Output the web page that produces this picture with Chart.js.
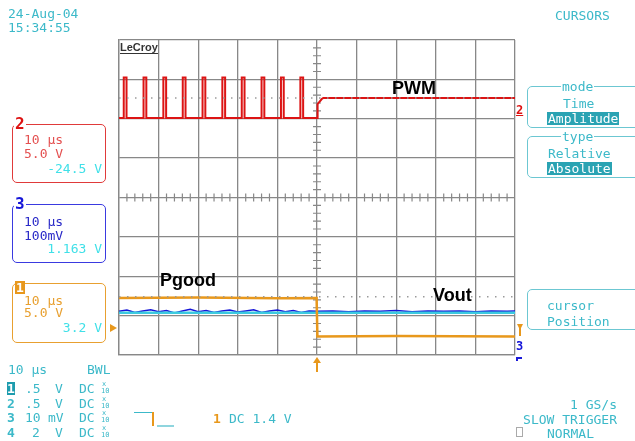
<!DOCTYPE html>
<html><head><meta charset="utf-8">
<script src="https://cdn.jsdelivr.net/npm/chart.js@4"></script>
<style>
html,body{margin:0;padding:0;background:#fff;}
#wrap{position:relative;width:635px;height:441px;overflow:hidden;background:#fff;}
canvas{position:absolute;left:0;top:0;}
.t{position:absolute;font-family:"DejaVu Sans Mono",monospace;font-size:13px;line-height:13px;white-space:pre;color:#3cb9c9;}
.box{position:absolute;border:1px solid;border-radius:5px;}
.lbl{position:absolute;font-family:"Liberation Sans",Arial,sans-serif;font-weight:bold;font-size:18px;line-height:18px;color:#000;white-space:pre;}
.hl{background:#2aa3b3;color:#fff;}
</style></head>
<body><div id="wrap"><canvas id="c" width="635" height="441"></canvas></div>
<script>
// ---- data (x in microseconds, y in screen divisions) ----
const timeRangeUs = [-50, 50];
const pwmPulseStartsUs = [-48.8, -43.8, -38.8, -33.9, -28.9, -23.9, -19.0, -14.0, -9.1, -4.2];
const pwmPulseWidthUs = 0.7;
const pwmLowDiv = 2.02;
const pwmPulseTopDiv = 3.05;
const pwmAfterT = [0.0, 0.15, 1.2, 1.6, 50];
const pwmAfterV = [2.02, 2.37, 2.5, 2.53, 2.53];
const pgoodT = [-50, -30, -10, -0.1, 0.1, 20, 50];
const pgoodV = [-2.55, -2.54, -2.56, -2.55, -3.53, -3.52, -3.53];
const voutT = [-50,-48,-46,-44,-42,-40,-38,-36,-34,-32,-30,-28,-26,-24,-22,-20,-18,-16,-14,-12,-10,-8,-6,-4,-2,0,4,8,12,16,20,24,28,32,36,40,44,48,50];
const voutV = [-2.89,-2.86,-2.92,-2.88,-2.85,-2.90,-2.87,-2.93,-2.88,-2.84,-2.90,-2.87,-2.92,-2.88,-2.86,-2.91,-2.88,-2.85,-2.92,-2.88,-2.86,-2.90,-2.87,-2.92,-2.88,-2.89,-2.88,-2.90,-2.88,-2.89,-2.87,-2.90,-2.88,-2.89,-2.88,-2.90,-2.88,-2.89,-2.88];
const vout2T = [-50, 50];
const vout2V = [-2.93, -2.93];
const cursorLevelsDiv = [2.53, -2.52];

// ---- build series ----
const pwm = [{x: timeRangeUs[0], y: pwmLowDiv}];
pwmPulseStartsUs.forEach(s => {
  pwm.push({x: s, y: pwmLowDiv}, {x: s, y: pwmPulseTopDiv}, {x: s + pwmPulseWidthUs, y: pwmPulseTopDiv}, {x: s + pwmPulseWidthUs, y: pwmLowDiv});
});
pwmAfterT.forEach((t, i) => pwm.push({x: t, y: pwmAfterV[i]}));
const pgood = pgoodT.map((t, i) => ({x: t, y: pgoodV[i]}));
const vout = voutT.map((t, i) => ({x: t, y: voutV[i]}));
const vout2 = vout2T.map((t, i) => ({x: t, y: vout2V[i]}));
const cursors = cursorLevelsDiv.map(v => timeRangeUs.map(t => ({x: t, y: v})));

const GRID = '#888888';
const crossTicks = {
  id: 'crossTicks',
  beforeDatasetsDraw(chart) {
    const {ctx, scales: {x, y}} = chart;
    const cx = x.getPixelForValue(0), cy = y.getPixelForValue(0);
    ctx.save(); ctx.strokeStyle = GRID; ctx.lineWidth = 1.2; ctx.beginPath();
    for (let i = -25; i <= 25; i++) { if (i % 5 === 0) continue; const px = x.getPixelForValue(i * 2); ctx.moveTo(px, cy - 4); ctx.lineTo(px, cy + 4); }
    for (let i = -20; i <= 20; i++) { if (i % 5 === 0) continue; const py = y.getPixelForValue(i * 0.2); ctx.moveTo(cx - 4, py); ctx.lineTo(cx + 4, py); }
    ctx.stroke(); ctx.restore();
  },
  afterDraw(chart) {
    const {ctx, scales: {x, y}} = chart;
    const cx = x.getPixelForValue(0);
    ctx.save();
    ctx.strokeStyle = '#e8981c'; ctx.fillStyle = '#e8981c'; ctx.lineWidth = 2;
    ctx.beginPath(); ctx.moveTo(cx, 362); ctx.lineTo(cx, 372); ctx.stroke();
    ctx.beginPath(); ctx.moveTo(cx - 4, 363); ctx.lineTo(cx + 4, 363); ctx.lineTo(cx, 357); ctx.closePath(); ctx.fill();
    ctx.beginPath(); ctx.moveTo(110, 324); ctx.lineTo(117, 328); ctx.lineTo(110, 332); ctx.closePath(); ctx.fill();
    ctx.beginPath(); ctx.moveTo(517, 324); ctx.lineTo(520, 330); ctx.lineTo(523, 324); ctx.closePath(); ctx.fill();
    ctx.fillRect(519, 324, 2, 12);
    ctx.fillStyle = '#1a1ad8';
    ctx.fillRect(516, 357, 6, 2); ctx.fillRect(516, 357, 2, 4);
    ctx.restore();
  }
};

new Chart(document.getElementById('c'), {
  type: 'line',
  data: { datasets: [
    {data: cursors[0], borderColor: '#9a9a9a', borderWidth: 1.5, borderDash: [1.5, 6.5], pointRadius: 0},
    {data: cursors[1], borderColor: '#9a9a9a', borderWidth: 1.5, borderDash: [1.5, 6.5], pointRadius: 0},
    {data: pgood, borderColor: '#e8981c', borderWidth: 2.5, pointRadius: 0},
    {data: vout2, borderColor: '#3ccbe0', borderWidth: 2.5, pointRadius: 0},
    {data: vout, borderColor: '#1414d8', borderWidth: 1.5, pointRadius: 0},
    {data: pwm, borderColor: '#dc1414', borderWidth: 2, pointRadius: 0}
  ]},
  options: {
    responsive: false, animation: false, devicePixelRatio: 1,
    layout: {padding: {left: 119, right: 120, top: 40, bottom: 86}},
    plugins: {legend: {display: false}, tooltip: {enabled: false}},
    elements: {line: {tension: 0, borderJoinStyle: 'miter'}},
    scales: {
      x: {type: 'linear', min: timeRangeUs[0], max: timeRangeUs[1],
          ticks: {stepSize: 10, display: false},
          grid: {color: GRID, lineWidth: 1.3, drawTicks: false},
          border: {color: GRID, width: 1.3},
          afterFit(s) { s.height = 0; }},
      y: {type: 'linear', min: -4, max: 4,
          ticks: {stepSize: 1, display: false},
          grid: {color: GRID, lineWidth: 1.3, drawTicks: false},
          border: {color: GRID, width: 1.3},
          afterFit(s) { s.width = 0; }}
    }
  },
  plugins: [crossTicks]
});

// ---- text overlays ----
const wrap = document.getElementById('wrap');
function T(text, x, capTop, color, opts) {
  const d = document.createElement('div');
  d.className = 't'; d.textContent = text;
  d.style.top = (capTop - 1.5) + 'px';
  if (opts && opts.right !== undefined) d.style.right = (635 - opts.right) + 'px'; else d.style.left = x + 'px';
  if (color) d.style.color = color;
  if (opts && opts.cls) d.className += ' ' + opts.cls;
  if (opts && opts.css) Object.assign(d.style, opts.css);
  wrap.appendChild(d); return d;
}
function B(x, y, w, h, color, css) {
  const d = document.createElement('div'); d.className = 'box';
  Object.assign(d.style, {left: x + 'px', top: y + 'px', width: w + 'px', height: h + 'px', borderColor: color}, css || {});
  wrap.appendChild(d); return d;
}
function L(text, x, capTop) {
  const d = document.createElement('div'); d.className = 'lbl'; d.textContent = text;
  d.style.left = x + 'px'; d.style.top = (capTop - 2.3) + 'px'; wrap.appendChild(d);
}
const CY = '#3cb9c9', CYB = '#40e0e8';
T('24-Aug-04', 8, 8); T('15:34:55', 8, 22); T('CURSORS', 555, 10);
B(12, 124, 92, 57, '#e03a3a');
T('2', 14, 118, '#dd1111', {css: {fontWeight: 'bold', fontSize: '16px', background: '#fff', padding: '0 1px'}});
T('10 μs', 24, 134, '#e45050'); T('5.0 V', 24, 148, '#e45050'); T('-24.5 V', 0, 163, CYB, {right: 102});
B(12, 204, 92, 57, '#3a3ae0');
T('3', 14, 198, '#1414d8', {css: {fontWeight: 'bold', fontSize: '16px', background: '#fff', padding: '0 1px'}});
T('10 μs', 24, 216, '#2a2ac8'); T('100mV', 24, 230, '#2a2ac8'); T('1.163 V', 0, 243, CYB, {right: 102});
B(12, 283, 92, 58, '#e8a030');
T('1', 15, 282, '#fff', {css: {fontWeight: 'bold', background: '#e8981c', padding: '0 1px'}});
T('10 μs', 24, 295, '#e8a030'); T('5.0 V', 24, 307, '#e8a030'); T('3.2 V', 0, 322, CYB, {right: 102});
B(527, 86, 120, 40, '#6cc7d2');
T('mode', 561, 81, CY, {css: {background: '#fff', padding: '0 1px'}});
T('Time', 563, 98); T('Amplitude', 547, 113, '#fff', {cls: 'hl', css: {padding: '0 1px'}});
B(527, 136, 120, 40, '#6cc7d2');
T('type', 561, 131, CY, {css: {background: '#fff', padding: '0 1px'}});
T('Relative', 548, 148); T('Absolute', 547, 163, '#fff', {cls: 'hl', css: {padding: '0 1px'}});
B(527, 289, 120, 39, '#6cc7d2');
T('cursor', 547, 300); T('Position', 547, 316);
T('2', 516, 105, '#dd1111', {css: {fontWeight: 'bold', fontSize: '12px', textDecoration: 'underline'}});
T('3', 516, 341, '#1414d8', {css: {fontWeight: 'bold', fontSize: '12px'}});
T('10 μs', 8, 364); T('BWL', 87, 364);
T('1', 7, 383, '#fff', {css: {background: '#1e9cae', fontWeight: 'bold'}});
T('2', 7, 398, CY, {css: {fontWeight: 'bold'}}); T('3', 7, 412, CY, {css: {fontWeight: 'bold'}}); T('4', 7, 427, CY, {css: {fontWeight: 'bold'}});
T('.5', 25, 383); T('V', 55, 383); T('DC', 79, 383);
T('.5', 25, 398); T('V', 55, 398); T('DC', 79, 398);
T('10', 25, 412); T('mV', 48, 412); T('DC', 79, 412);
T('2', 32, 427); T('V', 55, 427); T('DC', 79, 427);
[383, 398, 412, 427].forEach(y => {
  T('x', 102, y - 1, CY, {css: {fontSize: '7px', lineHeight: '7px'}});
  T('10', 101, y + 6, CY, {css: {fontSize: '7px', lineHeight: '7px'}});
});
const trg = document.createElement('div');
trg.innerHTML = '<div style="position:absolute;left:134px;top:412px;width:19px;height:1px;background:#3cb9c9"></div>' +
  '<div style="position:absolute;left:152px;top:412px;width:2px;height:14px;background:#e8981c"></div>' +
  '<div style="position:absolute;left:157px;top:425px;width:17px;height:2px;background:#8fd5de"></div>' +
  '<div style="position:absolute;left:516px;top:427px;width:5px;height:8px;border:1px solid #aaa"></div>';
wrap.appendChild(trg);
T('1', 213, 413, '#e8981c', {css: {fontWeight: 'bold'}}); T('DC 1.4 V', 229, 413);
T('1 GS/s', 0, 399, CY, {right: 617}); T('SLOW TRIGGER', 0, 414, CY, {right: 617}); T('NORMAL', 547, 428);
const logo = document.createElement('div');
logo.textContent = 'LeCroy';
Object.assign(logo.style, {position: 'absolute', left: '120px', top: '41.5px', font: 'bold 11px "Liberation Sans",Arial,sans-serif', lineHeight: '11px', color: '#333', borderBottom: '1.5px solid #333', background: '#fff'});
wrap.appendChild(logo);
L('PWM', 392, 81); L('Pgood', 160, 273); L('Vout', 433, 288);
</script></body></html>
